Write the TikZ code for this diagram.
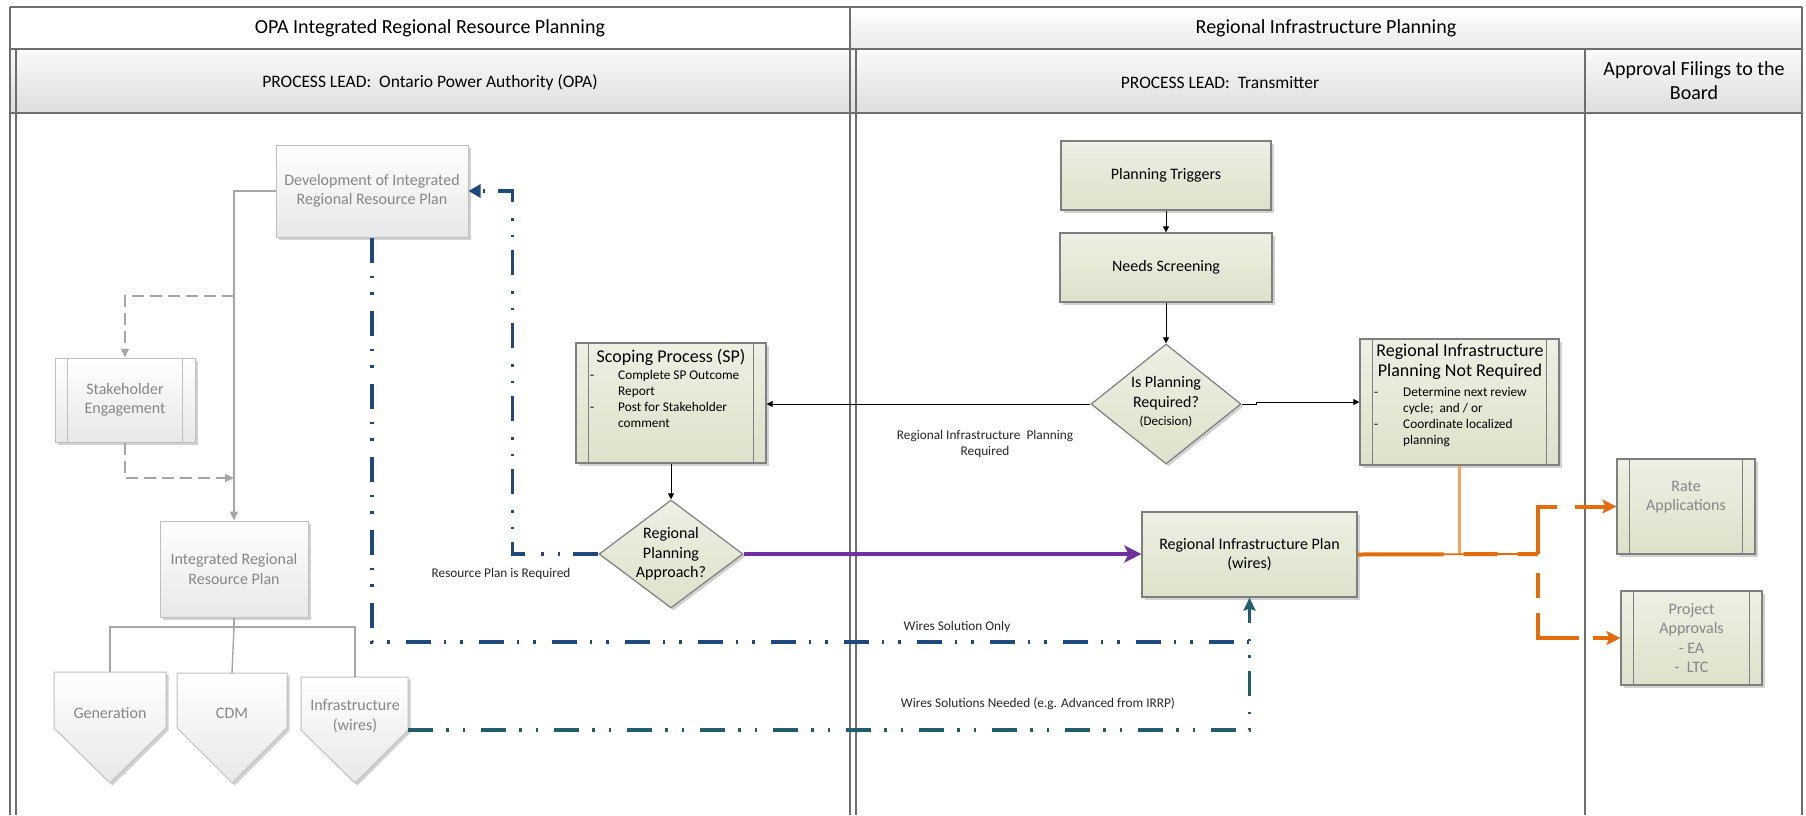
\documentclass[tikz,border=0pt]{standalone}
\usepackage{fontspec}
\setmainfont{Carlito}
\usetikzlibrary{arrows.meta,shapes.geometric,shadows,calc}
\definecolor{frameC}{HTML}{6E6E6E}
\definecolor{ghostT}{HTML}{868686}
\definecolor{ghostB}{HTML}{BFBFBF}
\definecolor{grnTop}{HTML}{EDF0E3}
\definecolor{grnBot}{HTML}{DCE2CA}
\definecolor{grnB}{HTML}{7F7F7F}
\definecolor{blueD}{HTML}{1F497D}
\definecolor{tealD}{HTML}{215E6C}
\definecolor{purpC}{HTML}{7030A0}
\definecolor{oranC}{HTML}{E46C0A}
\definecolor{oranL}{HTML}{F8A45E}
\definecolor{conG}{HTML}{A6A6A6}
\definecolor{lblC}{HTML}{262626}
\newcommand\myHdr{\fontsize{20}{24}\selectfont}
\newcommand\myLead{\fontsize{17.5}{21}\selectfont}
\newcommand\myBody{\fontsize{16}{19.5}\selectfont}
\newcommand\myTitle{\fontsize{18}{20}\selectfont}
\newcommand\mySmall{\fontsize{13.3}{16}\selectfont}
\newcommand\myDec{\fontsize{13}{16}\selectfont}
\begin{document}
\begin{tikzpicture}[x=1pt,y=-1pt,
  frame/.style={draw=frameC, line width=1.2pt},
  shad/.style={drop shadow={shadow xshift=2.5pt,shadow yshift=-2.5pt,opacity=0.18,fill=black}},
  ghost/.style={draw=ghostB, line width=1pt, top color=white, bottom color=black!9, inner sep=0pt, shad, text=ghostT, font=\myBody, align=center},
  green/.style={draw=grnB, line width=1.2pt, top color=grnTop, bottom color=grnBot, inner sep=0pt, shad, text=black, font=\myBody, align=center},
  dia/.style={diamond, draw=grnB, line width=1.2pt, top color=grnTop, bottom color=grnBot, inner sep=0pt, shad},
  predef/.style={path picture={\draw[line width=1pt,draw=#1] ([xshift=12.5pt]path picture bounding box.north west) -- ([xshift=12.5pt]path picture bounding box.south west) ([xshift=-12.5pt]path picture bounding box.north east) -- ([xshift=-12.5pt]path picture bounding box.south east);}},
  conn/.style={draw=black, line width=0.9pt, -{Triangle[length=6pt,width=6pt]}},
  gconn/.style={draw=conG, line width=1.4pt},
  garr/.style={-{Triangle[length=9pt,width=8pt]}},
  gdash/.style={dash pattern=on 12pt off 6pt},
  dashdot/.style={line width=3.3pt, dash pattern=on 25pt off 13pt on 2.5pt off 14pt on 2.5pt off 16pt},
  lbl/.style={font=\mySmall, text=lblC, align=center, inner sep=0pt},
  otxt/.style={font=\myBody, text=ghostT, align=center, inner sep=0pt}
]
\useasboundingbox (0,0) rectangle (1806,815);
% ---------- swimlane frame ----------
\fill[white] (10,7) rectangle (850,49);
\shade[top color=white, bottom color=black!8] (850,7) rectangle (1802,49);
\shade[top color=black!2, bottom color=black!13] (10,49) rectangle (1802,113);
\draw[frame] (10,7) -- (1802,7);
\draw[frame] (10,49) -- (1802,49);
\draw[frame] (10,113) -- (1802,113);
\draw[frame] (10,7) -- (10,815);
\draw[frame] (16,49) -- (16,815);
\draw[frame] (850,7) -- (850,815);
\draw[frame] (856,49) -- (856,815);
\draw[frame] (1585,49) -- (1585,815);
\draw[frame] (1802,7) -- (1802,815);
\node[font=\myHdr] (h1) at (430,28) {OPA Integrated Regional Resource Planning};
\node[font=\myHdr] (h2) at (1326,28) {Regional Infrastructure Planning};
\node[font=\myLead] (h3) at (430,83) {PROCESS LEAD:\ \ Ontario Power Authority (OPA)};
\node[font=\myLead] (h4) at (1220,83) {PROCESS LEAD:\ \ Transmitter};
\node[font=\myHdr, align=center] (h5) at (1694,81) {Approval Filings to the\\Board};
% ---------- OPA lane (ghosted) ----------
\node[ghost, minimum width=192pt, minimum height=92pt] (devirrp) at (372,191) {Development of Integrated\\Regional Resource Plan};
\node[ghost, predef=ghostB, minimum width=140pt, minimum height=84pt] (stake) at (125,400) {Stakeholder\\Engagement};
\node[ghost, minimum width=148pt, minimum height=96pt] (irrp) at (234,569) {Integrated Regional\\Resource Plan};
\path[draw=ghostB, line width=1pt, top color=white, bottom color=black!9, shad] (54,672) -- (166,672) -- (166,728) -- (110,783) -- (54,728) -- cycle;
\path[draw=ghostB, line width=1pt, top color=white, bottom color=black!9, shad] (177,673) -- (287,673) -- (287,728) -- (232,783) -- (177,728) -- cycle;
\path[draw=ghostB, line width=1pt, top color=white, bottom color=black!9, shad] (301,677) -- (408,677) -- (408,730) -- (355,783) -- (301,730) -- cycle;
\node[otxt] (gen-t) at (110,713) {Generation};
\node[otxt] (cdm-t) at (232,713) {CDM};
\node[otxt] (inf-t) at (355,716) {Infrastructure\\(wires)};
\coordinate (gentop) at (110,672);
\coordinate (cdmtop) at (232,673);
\coordinate (inftop) at (355,677);
\coordinate (infE) at (408,730);
\coordinate (bar) at (234,627);
\coordinate (gb1) at (234,296);
\coordinate (gb2) at (234,478);
\draw[gconn, garr] (devirrp.west) -| (irrp.north);
\draw[gconn, gdash, garr] (gb1) -| (stake.north);
\draw[gconn, gdash, garr] (stake.south) |- (gb2);
\draw[gconn] (irrp.south) -- (bar) -| (gentop);
\draw[gconn] (bar) -| (inftop);
\draw[gconn] (bar) -- (cdmtop);
% ---------- Transmitter lane ----------
\node[green, minimum width=210pt, minimum height=69pt] (pt) at (1166,175.5) {Planning Triggers};
\node[green, minimum width=212pt, minimum height=69pt] (ns) at (1166,267.5) {Needs Screening};
\node[dia, minimum width=150pt, minimum height=120pt] (ipr) at (1166,404) {};
\node[font=\myBody, align=center, inner sep=0pt] (ipr-t) at (1166,402) {Is Planning\\Required?\\[-1pt]{\myDec (Decision)}};
\node[green, predef=grnB, minimum width=199pt, minimum height=126pt] (ripnr) at (1459.5,402) {};
\node[font=\myTitle, align=center, inner sep=0pt] (ripnr-title) at (1460,362) {Regional Infrastructure\\Planning Not Required};
\node[font=\mySmall, anchor=north west, inner sep=0pt] (ripnr-list) at (1374,385) {\begin{tabular}{@{}p{29pt}@{}l@{}}-&Determine next review\\&cycle;\ \ and / or\\-&Coordinate localized\\&planning\end{tabular}};
\node[green, predef=grnB, minimum width=190pt, minimum height=120pt] (sp) at (671,403) {};
\node[font=\myTitle, inner sep=0pt] (sp-title) at (671,357) {Scoping Process (SP)};
\node[font=\mySmall, anchor=north west, inner sep=0pt] (sp-list) at (590,368) {\begin{tabular}{@{}p{28pt}@{}l@{}}-&Complete SP Outcome\\&Report\\-&Post for Stakeholder\\&comment\end{tabular}};
\node[dia, minimum width=144pt, minimum height=108pt] (rpa) at (671,554) {};
\node[font=\myBody, align=center, inner sep=0pt] (rpa-t) at (671,554) {Regional\\Planning\\Approach?};
\node[green, minimum width=215pt, minimum height=85pt] (rip) at (1249.5,554.5) {Regional Infrastructure Plan\\(wires)};
% ---------- Approval lane ----------
\node[green, predef=grnB, minimum width=138pt, minimum height=95pt] (rate) at (1686,506.5) {};
\node[otxt] (rate-t) at (1686,497) {Rate\\Applications};
\node[green, predef=grnB, minimum width=141pt, minimum height=94pt, text=ghostT] (proj) at (1691.5,638) {Project\\Approvals\\- EA\\-\ \ LTC};
% ---------- connectors ----------
\draw[conn] (pt.south) -- (pt.south |- ns.north);
\draw[conn] (ns.south) -- (ipr.north);
\draw[conn] (ipr.west) -- (ipr.west -| sp.east);
\draw[conn] (ipr.east) -- ++(15,0) |- (ripnr.west);
\draw[conn] (sp.south) -- (rpa.north);
\draw[draw=purpC, line width=4.5pt, -{Stealth[length=17pt,width=17pt,inset=4pt]}] (rpa.east) -- (rpa.east -| rip.west);
\coordinate (bj) at (1250,642);
\draw[draw=blueD, dashdot, -{Triangle[length=12pt,width=13pt]}] (rpa.west) -- ++(-86,0) |- (devirrp.east);
\draw[draw=blueD, dashdot] (devirrp.south) |- (bj);
\draw[draw=tealD, dashdot, -{Stealth[length=13pt,width=12pt,inset=2pt]}] (infE) -| (rip.south);
\coordinate (ocorner) at (1538,554);
\draw[draw=oranL, line width=2.5pt] (ripnr.south) -- (ripnr.south |- rip.east);
\draw[draw=oranC, line width=1.8pt] (rip.east) -- (ocorner);
\draw[draw=oranC, line width=4pt, dash pattern=on 86pt off 20pt on 34pt off 20pt on 30pt] (rip.east) -- (ocorner);
\draw[draw=oranC, line width=4pt, dash pattern=on 66pt off 18pt on 80pt, -{Stealth[length=14pt,width=14pt,inset=3pt]}] (ocorner) |- (rate.west);
\draw[draw=oranC, line width=4pt, dash pattern=on 0.01pt off 19pt on 25pt off 15pt on 66pt off 14pt on 80pt, -{Stealth[length=14pt,width=14pt,inset=3pt]}] (ocorner) |- (proj.west);
% ---------- labels ----------
\node[lbl] (l1) at (985,444) {Regional Infrastructure\ \ Planning\\Required};
\node[lbl] (l2) at (501,574) {Resource Plan is Required};
\node[lbl] (l3) at (957,627) {Wires Solution Only};
\node[lbl] (l4) at (1038,704) {Wires Solutions Needed (e.g. Advanced from IRRP)};
\end{tikzpicture}
\end{document}
